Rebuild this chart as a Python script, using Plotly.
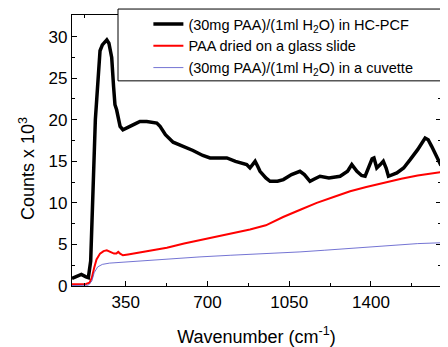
import plotly.graph_objects as go

# HC-PCF (black)
w_pcf = [120, 140, 160, 180, 190, 200, 211, 220, 226, 233, 240, 250, 260, 269, 278, 290, 298, 304, 311, 318,
         326, 338, 350, 368, 390, 411, 440, 470, 483, 497, 520, 553, 590, 638, 680, 711, 750, 783, 820, 868,
         882, 895, 904, 915, 925, 950, 968, 1000, 1025, 1060, 1096, 1115, 1139, 1160, 1182, 1220, 1268, 1300,
         1318, 1340, 1360, 1375, 1390, 1405, 1413, 1425, 1440, 1453, 1465, 1475, 1511, 1540, 1568, 1600, 1632,
         1645, 1660, 1680, 1700]
c_pcf = [0.9, 1.2, 1.4, 1.1, 1.0, 3.0, 14.0, 20.0, 22.5, 26.0, 28.3, 29.0, 29.3, 29.6, 29.2, 27.5, 24.0, 21.8, 21.2, 20.2,
         19.2, 18.8, 19.0, 19.2, 19.5, 19.8, 19.8, 19.7, 19.6, 19.2, 18.2, 17.3, 16.9, 16.3, 15.7, 15.4, 15.4, 15.4, 15.0, 14.6,
         14.2, 14.6, 15.0, 14.4, 13.8, 13.0, 12.6, 12.6, 12.8, 13.4, 13.8, 13.4, 12.6, 12.9, 13.2, 13.0, 13.2, 13.8,
         14.6, 13.8, 13.3, 13.2, 14.2, 15.3, 15.4, 14.2, 14.6, 15.0, 14.2, 13.2, 13.6, 14.2, 15.2, 16.4, 17.8,
         17.6, 16.8, 15.6, 14.5]

# dried on glass slide (red)
w_glass = [120, 180, 195, 205, 215, 225, 240, 255, 269, 285, 300, 310, 318, 326, 338, 360, 400, 450, 526, 600,
           700, 810, 882, 950, 1024, 1100, 1168, 1240, 1311, 1380, 1453, 1530, 1600, 1700]
c_glass = [0.2, 0.25, 0.4, 1.0, 2.2, 3.2, 3.9, 4.2, 4.3, 4.1, 3.9, 3.9, 4.1, 3.9, 3.7, 3.8, 4.0, 4.2, 4.6, 5.1,
           5.7, 6.4, 6.8, 7.3, 8.3, 9.2, 10.0, 10.7, 11.4, 11.9, 12.4, 12.9, 13.3, 13.7]

# cuvette (blue)
w_cuv = [120, 190, 205, 215, 230, 250, 280, 354, 450, 550, 668, 800, 882, 1000, 1096, 1200, 1300, 1400, 1500, 1600, 1700]
c_cuv = [0.05, 0.1, 0.6, 1.6, 2.3, 2.6, 2.75, 2.9, 3.1, 3.3, 3.5, 3.7, 3.8, 4.0, 4.1, 4.3, 4.5, 4.7, 4.9, 5.1, 5.2]

names = ["(30mg PAA)/(1ml H<sub>2</sub>O) in HC-PCF",
         "PAA dried on a glass slide",
         "(30mg PAA)/(1ml H<sub>2</sub>O) in a cuvette"]

x_ticks = [350, 700, 1050, 1400]
y_ticks = [0, 5, 10, 15, 20, 25, 30]
x_title = "Wavenumber (cm<sup>-1</sup>)"
y_title = "Counts x 10<sup>3</sup>"

FONT = "Liberation Sans, Arial"

fig = go.Figure()
fig.add_trace(go.Scatter(x=w_pcf, y=c_pcf, mode="lines", name=names[0],
                         line=dict(color="black", width=3.5)))
fig.add_trace(go.Scatter(x=w_glass, y=c_glass, mode="lines", name=names[1],
                         line=dict(color="#ff0000", width=2)))
fig.add_trace(go.Scatter(x=w_cuv, y=c_cuv, mode="lines", name=names[2],
                         line=dict(color="#5050c8", width=0.8)))

axis_common = dict(showline=True, linecolor="black", linewidth=1.2, mirror="allticks",
                   ticks="inside", ticklen=5, tickcolor="black", showgrid=False, zeroline=False,
                   automargin=False,
                   tickfont=dict(family=FONT, size=17, color="black"))

fig.update_xaxes(range=[120, 1700], tickvals=x_ticks,
                 minor=dict(dtick=175, tick0=0, ticks="inside", ticklen=3, tickcolor="black"),
                 title=dict(text=x_title, font=dict(family=FONT, size=18, color="black"), standoff=22),
                 **axis_common)
fig.update_yaxes(range=[0, 32.6], tickvals=y_ticks,
                 minor=dict(dtick=2.5, tick0=0, ticks="inside", ticklen=3, tickcolor="black"),
                 **axis_common)

fig.add_annotation(text=y_title, xref="paper", yref="paper", x=-0.122, y=0.435,
                   textangle=-90, showarrow=False, xanchor="center", yanchor="middle",
                   font=dict(family=FONT, size=18, color="black"))

fig.add_shape(type="rect", xref="paper", yref="paper", x0=0.1247, x1=1.1, y0=0.757, y1=1.022,
              fillcolor="white", line=dict(color="black", width=1), layer="above")

fig.update_layout(
    width=440, height=339,
    margin=dict(l=64, r=7, t=7, b=61, autoexpand=False),
    paper_bgcolor="white", plot_bgcolor="white",
    showlegend=True,
    legend=dict(x=0.207, y=1.026, xanchor="left", yanchor="top", bgcolor="rgba(0,0,0,0)",
                borderwidth=0, tracegroupgap=0,
                font=dict(family=FONT, size=14.5, color="black")),
)

fig.write_html("out.html")
